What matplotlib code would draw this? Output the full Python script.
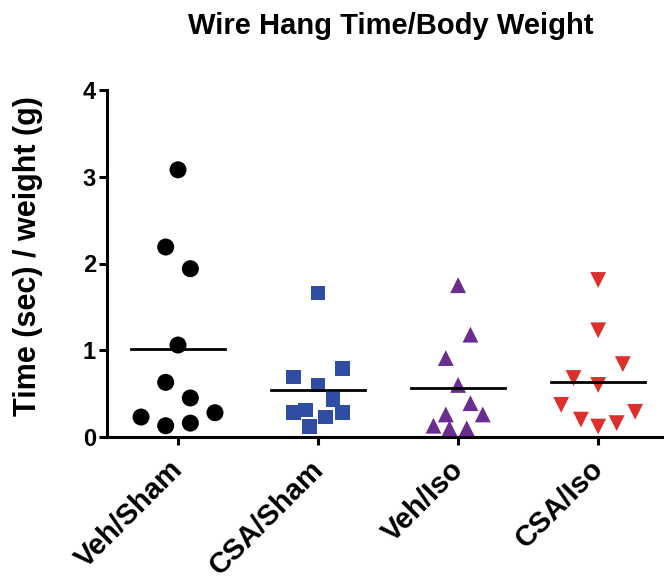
import matplotlib
matplotlib.use("Agg")
import matplotlib.pyplot as plt
import matplotlib.transforms as mtransforms
import numpy as np

plt.rcParams['font.family'] = ['Liberation Sans', 'DejaVu Sans']

groups = ['Veh/Sham', 'CSA/Sham', 'Veh/Iso', 'CSA/Iso']

veh_sham = [3.08, 2.19, 1.94, 1.06, 0.63, 0.45, 0.23, 0.13, 0.16, 0.28]
csa_sham = [1.66, 0.79, 0.69, 0.60, 0.43, 0.28, 0.31, 0.28, 0.12, 0.23]
veh_iso = [1.75, 1.18, 0.91, 0.60, 0.39, 0.26, 0.26, 0.13, 0.10, 0.10]
csa_iso = [1.81, 1.23, 0.84, 0.68, 0.60, 0.37, 0.29, 0.20, 0.16, 0.12]

# horizontal spread of the points (column scatter), in steps
spread = [
    [0, -1, 1, 0, -1, 1, -3, -1, 1, 3],
    [0, 2, -2, 0, 1.2, -2, -1, 2, -0.7, 0.6],
    [0, 1, -1, 0, 1, -1, 2, -2, -0.7, 0.7],
    [0, 0, 2, -2, 0, -3, 3, -1.4, 1.5, 0],
]

values = [veh_sham, csa_sham, veh_iso, csa_iso]
colors = ['black', '#2F4DA3', '#6B2C8F', '#DD2F2C']
markers = ['o', 's', '^', 'v']
sizes = [150, 110, 130, 130]

fig = plt.figure(figsize=(6.64, 5.82), dpi=100)
ax = fig.add_axes([107 / 664, 1 - 437 / 582, (664 - 107) / 664, (437 - 90) / 582])

for i, vals in enumerate(values):
    xs = i + np.array(spread[i]) * 0.088
    ax.scatter(xs, vals, s=sizes[i], marker=markers[i], color=colors[i],
               edgecolors='none', clip_on=False, zorder=3)
    m = np.mean(vals)
    ax.plot([i - 0.335, i + 0.335], [m, m], color='black', lw=2, zorder=4)

ax.set_xlim(-0.507, 3.47)
ax.set_ylim(0, 4)
ax.set_yticks([0, 1, 2, 3, 4])
ax.set_xticks(range(len(groups)))
ax.set_xticklabels([])
# rotated category labels, nudged down/left from the tick
shift = mtransforms.ScaledTranslation(-0.09, -0.18, fig.dpi_scale_trans)
for i, name in enumerate(groups):
    ax.text(i, 0, name, transform=ax.get_xaxis_transform() + shift,
            rotation=45, ha='right', va='top', rotation_mode='anchor',
            fontsize=21, fontweight='bold')
for lab in ax.get_yticklabels():
    lab.set_fontsize(17)
    lab.set_fontweight('bold')

ax.spines['top'].set_visible(False)
ax.spines['right'].set_visible(False)
ax.spines['left'].set_linewidth(2.2)
ax.spines['bottom'].set_linewidth(2.2)
ax.tick_params(width=2.2, length=6, direction='out', pad=2)

ax.set_ylabel('Time (sec) / weight (g)', fontsize=22, fontweight='bold')
ax.yaxis.set_label_coords(-0.115, 0.52)
fig.text(0.589, 0.955, 'Wire Hang Time/Body Weight', ha='center', va='center',
         fontsize=21, fontweight='bold')

plt.savefig('out.png', dpi=100)
